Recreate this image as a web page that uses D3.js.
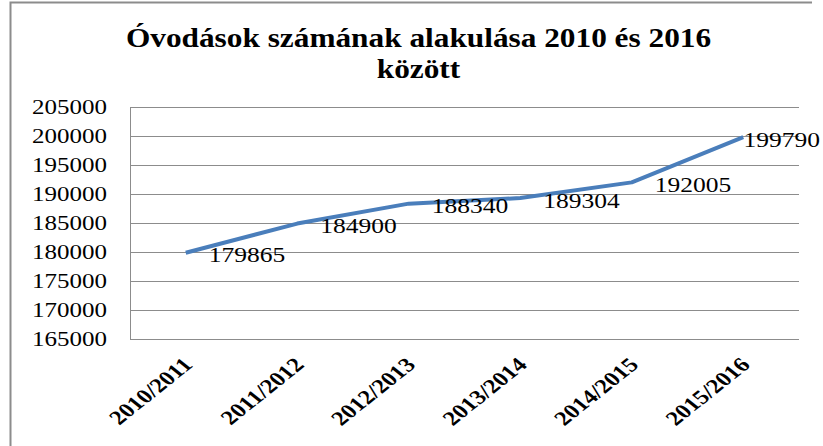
<!DOCTYPE html>
<html>
<head>
<meta charset="utf-8">
<script src="https://cdn.jsdelivr.net/npm/d3@7"></script>
<style>
  html, body { margin: 0; padding: 0; background: #fff; }
  svg text { font-family: 'Liberation Serif', Tinos, 'Times New Roman', 'DejaVu Serif', serif; }
</style>
</head>
<body>
<div id="chart"></div>
<script>
// chart data
const titleLines = ['Óvodások számának alakulása 2010 és 2016', 'között']
const categories = ['2010/2011', '2011/2012', '2012/2013', '2013/2014', '2014/2015', '2015/2016']
const values = [179865, 184900, 188340, 189304, 192005, 199790]
const yTicks = [165000, 170000, 175000, 180000, 185000, 190000, 195000, 200000, 205000]

const width = 823,
  height = 446
const margin = {top: 107, right: 24, bottom: 107, left: 130}
const stretch = 1.25  // source picture is wider than tall

const svg = d3.select('#chart').append('svg')
  .attr('width', width)
  .attr('height', height)

// outer chart frame (left and top edges only visible)
svg.append('path')
  .attr('d', `M10.5,${height} V2.5 H812`)
  .attr('fill', 'none')
  .attr('stroke', '#8c8c8c')
  .attr('stroke-width', 2)

const x = d3.scaleBand()
  .domain(categories)
  .range([margin.left, width - margin.right])
const y = d3.scaleLinear()
  .domain([165000, 205000])
  .range([height - margin.bottom, margin.top])

// title
svg.append('g').selectAll('text')
  .data(titleLines)
  .enter().append('text')
  .attr('transform', (d, i) => `translate(${width / 2 + 7}, ${47 + i * 31}) scale(1.16,1)`)
  .attr('text-anchor', 'middle')
  .style('font-weight', 'bold')
  .style('font-size', '27px')
  .text(d => d)

// gridlines
svg.append('g').selectAll('line')
  .data(yTicks)
  .enter().append('line')
  .attr('x1', margin.left)
  .attr('x2', width - margin.right)
  .attr('y1', d => Math.round(y(d)) + 0.5)
  .attr('y2', d => Math.round(y(d)) + 0.5)
  .attr('stroke', '#8c8c8c')
  .attr('stroke-width', 1)

// y axis line
svg.append('line')
  .attr('x1', margin.left + 0.5)
  .attr('x2', margin.left + 0.5)
  .attr('y1', y(205000))
  .attr('y2', y(165000))
  .attr('stroke', '#8c8c8c')

// y labels
svg.append('g').selectAll('text')
  .data(yTicks)
  .enter().append('text')
  .attr('transform', d => `translate(107, ${y(d)}) scale(${stretch},1)`)
  .attr('text-anchor', 'end')
  .attr('dy', '0.35em')
  .style('font-size', '20px')
  .text(d => d)

// x labels, rotated then stretched like the source
svg.append('g').selectAll('text')
  .data(categories)
  .enter().append('text')
  .attr('transform', d => `translate(${x(d) + x.bandwidth() / 2 + 8}, ${y(165000) + 27}) scale(${stretch},1) rotate(-45)`)
  .attr('text-anchor', 'end')
  .style('font-weight', 'bold')
  .style('font-size', '20px')
  .text(d => d)

// the line
const line = d3.line()
  .x((d, i) => x(categories[i]) + x.bandwidth() / 2)
  .y(d => y(d))
svg.append('path')
  .datum(values)
  .attr('d', line)
  .attr('fill', 'none')
  .attr('stroke', '#4a7ebb')
  .attr('stroke-width', 4)
  .attr('stroke-linejoin', 'round')

// data labels, right of each point, kept inside the frame
const labels = svg.append('g').selectAll('text')
  .data(values)
  .enter().append('text')
  .attr('dy', '0.35em')
  .style('font-size', '22px')
  .text(d => d)
labels.each(function(d, i) {
  const w = this.getComputedTextLength() * 1.16
  let lx = x(categories[i]) + x.bandwidth() / 2 + 23
  if (lx + w > width - 3) lx = width - 3 - w
  d3.select(this).attr('transform', `translate(${lx}, ${y(d) + 2}) scale(1.16,1)`)
})
</script>
</body>
</html>
